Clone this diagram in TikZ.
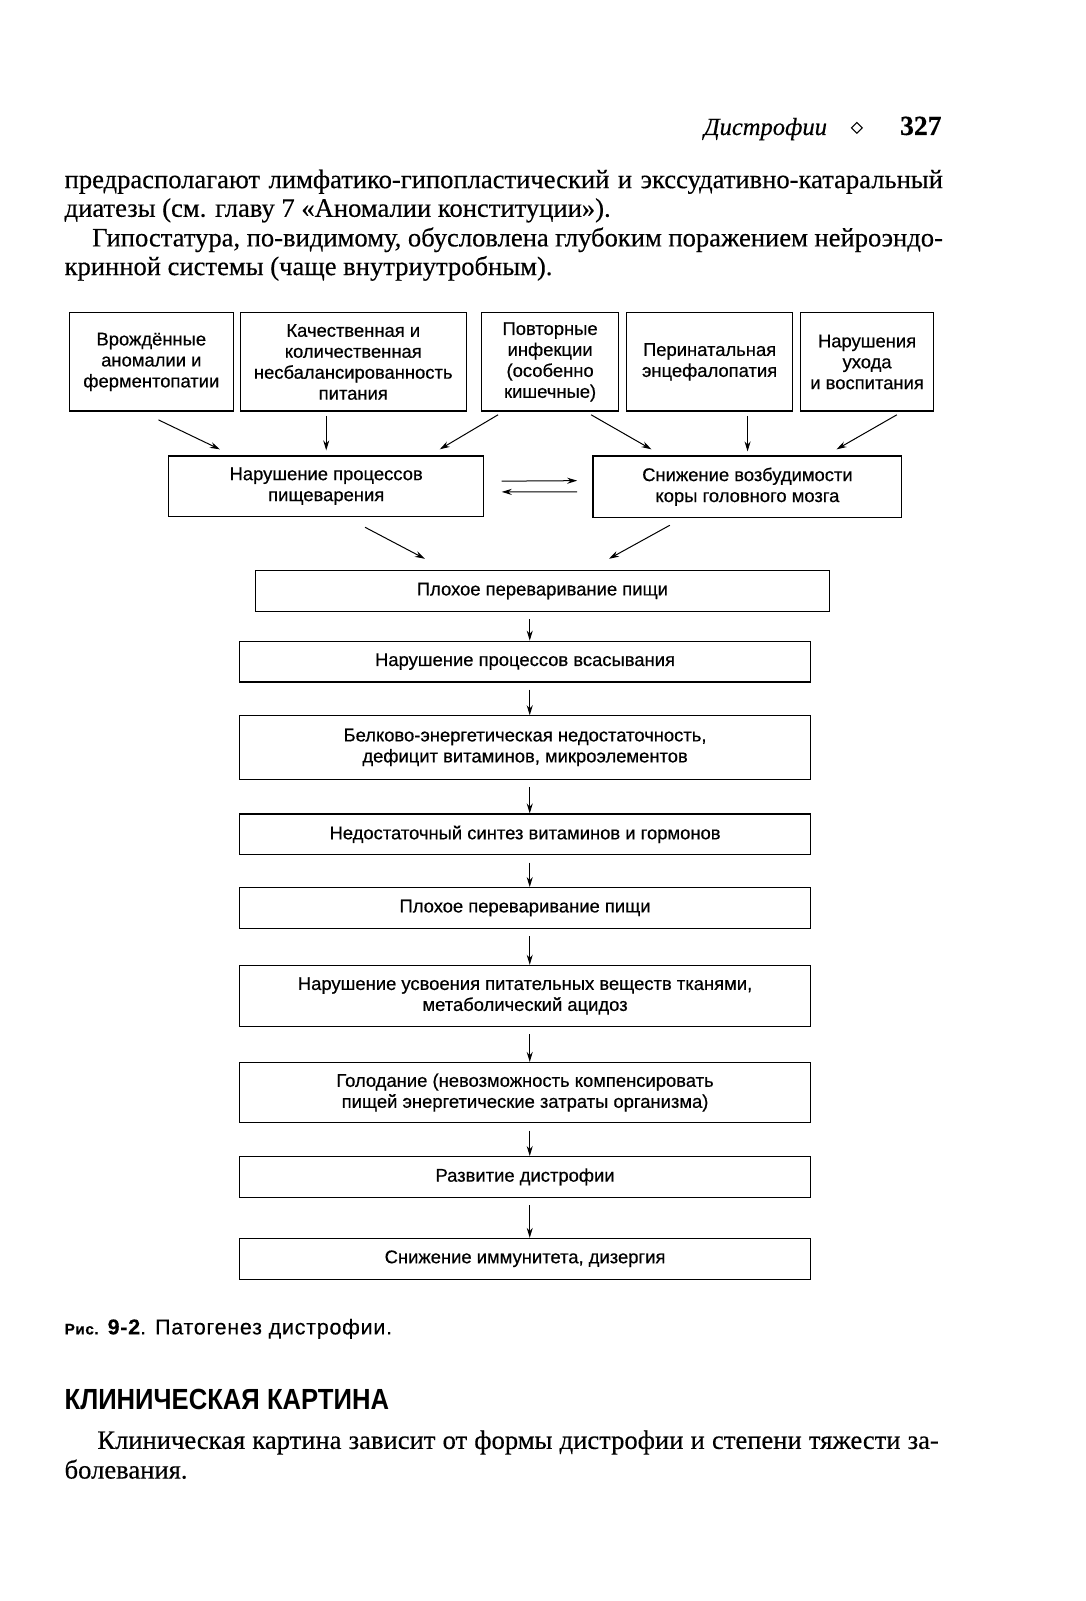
\documentclass[tikz,border=0pt]{standalone}
\usepackage{fontspec}
\setmainfont{Liberation Serif}[FakeBold=0.4]
\newfontfamily\dfont{Liberation Sans}[FakeBold=0.5]
\newfontfamily\capfont{Liberation Sans}[FakeBold=0.3,LetterSpace=3.5]
\newfontfamily\hfont{Liberation Sans}[FakeStretch=0.88]
\usetikzlibrary{arrows.meta,shapes.geometric}
\tikzset{
  box/.style={draw, line width=1.2pt, inner sep=0pt, align=center,
    font=\dfont\fontsize{18}{20.5}\selectfont},
  arr/.style={-{Stealth[length=10pt,width=6pt]}, line width=1pt},
  body/.style={anchor=base west, inner sep=0pt, font=\fontsize{26}{28}\selectfont},
}
\begin{document}
\begin{tikzpicture}[x=1pt,y=-1pt]
\useasboundingbox (0,0) rectangle (1085,1601);
\begin{scope}[scale=1.0225, transform shape]
% header
\node[anchor=base east, inner sep=0pt, font=\fontsize{24}{28}\selectfont\itshape] (hd) at (809,132) {Дистрофии};
\node[draw, diamond, inner sep=0pt, minimum size=11pt, line width=1.1pt] (dm) at (838,125) {};
\node[anchor=base east, inner sep=0pt, font=\fontsize{27}{30}\selectfont\bfseries] (pg) at (921,132) {327};
% body text
\node[body] (t1) at (63,184) {\makebox[859pt][s]{предрасполагают лимфатико-гипопластический и экссудативно-катаральный}};
\node[body] (t2) at (63,212) {диатезы (см. главу 7 «Аномалии конституции»).};
\node[body] (t3) at (90,241) {\makebox[832pt][s]{Гипостатура, по-видимому, обусловлена глубоким поражением нейроэндо-}};
\node[body] (t4) at (63,269) {кринной системы (чаще внутриутробным).};
% top row
\node[box, minimum width=160pt, minimum height=96pt] (b1) at (148,354) {Врождённые\\аномалии и\\ферментопатии};
\node[box, minimum width=221pt, minimum height=96pt] (b2) at (345.5,354) {Качественная и\\количественная\\несбалансированность\\питания};
\node[box, minimum width=134pt, minimum height=96pt] (b3) at (538,354) {Повторные\\инфекции\\(особенно\\кишечные)};
\node[box, minimum width=162pt, minimum height=96pt] (b4) at (694,354) {Перинатальная\\энцефалопатия};
\node[box, minimum width=130pt, minimum height=96pt] (b5) at (848,354) {Нарушения\\ухода\\и воспитания};
% second row
\node[box, minimum width=308pt, minimum height=59pt] (L) at (319,475.5) {Нарушение процессов\\пищеварения};
\node[box, minimum width=302pt, minimum height=60pt] (R) at (731,476) {Снижение возбудимости\\коры головного мозга};
% chain
\node[box, minimum width=561pt, minimum height=40pt] (c1) at (530.5,578) {Плохое переваривание пищи};
\node[box, minimum width=559pt, minimum height=40pt] (c2) at (513.5,647) {Нарушение процессов всасывания};
\node[box, minimum width=559pt, minimum height=62pt] (c3) at (513.5,731) {Белково-энергетическая недостаточность,\\дефицит витаминов, микроэлементов};
\node[box, minimum width=559pt, minimum height=40pt] (c4) at (513.5,816) {Недостаточный синтез витаминов и гормонов};
\node[box, minimum width=559pt, minimum height=40pt] (c5) at (513.5,888) {Плохое переваривание пищи};
\node[box, minimum width=559pt, minimum height=60pt] (c6) at (513.5,974) {Нарушение усвоения питательных веществ тканями,\\метаболический ацидоз};
\node[box, minimum width=559pt, minimum height=59pt] (c7) at (513.5,1068.5) {Голодание (невозможность компенсировать\\пищей энергетические затраты организма)};
\node[box, minimum width=559pt, minimum height=40pt] (c8) at (513.5,1151) {Развитие дистрофии};
\node[box, minimum width=559pt, minimum height=40pt] (c9) at (513.5,1231) {Снижение иммунитета, дизергия};
% arrows top row -> second row
\draw[arr] ([xshift=7pt,yshift=-8pt]b1.south) -- ([xshift=-104pt,yshift=6pt]L.north);
\draw[arr] ([yshift=-4pt]b2.south -| L.north) -- ([yshift=5pt]L.north);
\draw[arr] ([xshift=-51pt,yshift=-3pt]b3.south) -- ([xshift=111pt,yshift=6pt]L.north);
\draw[arr] ([xshift=40pt,yshift=-3pt]b3.south) -- ([xshift=-94pt,yshift=6pt]R.north);
\draw[arr] ([yshift=-4pt]b4.south -| R.north) -- ([yshift=4pt]R.north);
\draw[arr] ([xshift=29pt,yshift=-3pt]b5.south) -- ([xshift=87pt,yshift=6pt]R.north);
% mutual arrows
\draw[arr] ([xshift=17pt,yshift=5pt]L.east) -- ([xshift=-15pt,yshift=6pt]R.west);
\draw[arr] ([xshift=-15pt,yshift=-5pt]R.west) -- ([xshift=17pt,yshift=-5.5pt]L.east);
% second row -> chain
\draw[arr] ([xshift=38pt,yshift=-10pt]L.south) -- ([xshift=-115pt,yshift=11pt]c1.north);
\draw[arr] ([xshift=-76pt,yshift=-7pt]R.south) -- ([xshift=65pt,yshift=11pt]c1.north);
% chain arrows
\coordinate (ax) at (518,0);
\foreach \a/\b in {c1/c2,c2/c3,c3/c4,c4/c5,c5/c6,c6/c7,c7/c8,c8/c9}
  \draw[arr, shorten <=7pt] (\a.south -| ax) -- (\b.north -| ax);
% caption
\node[anchor=base west, inner sep=0pt, font=\capfont\fontsize{21}{24}\selectfont] (cap) at (63,1305)
  {{\fontsize{15}{17}\selectfont\bfseries Рис.} {\bfseries 9-2}. Патогенез дистрофии.};
\node[anchor=base west, inner sep=0pt, font=\hfont\fontsize{28.5}{32}\selectfont\bfseries] (hdg) at (63,1378) {КЛИНИЧЕСКАЯ КАРТИНА};
\node[body] (t5) at (95,1417) {\makebox[823pt][s]{Клиническая картина зависит от формы дистрофии и степени тяжести за-}};
\node[body] (t6) at (63,1446) {болевания.};
\end{scope}
\end{tikzpicture}
\end{document}
